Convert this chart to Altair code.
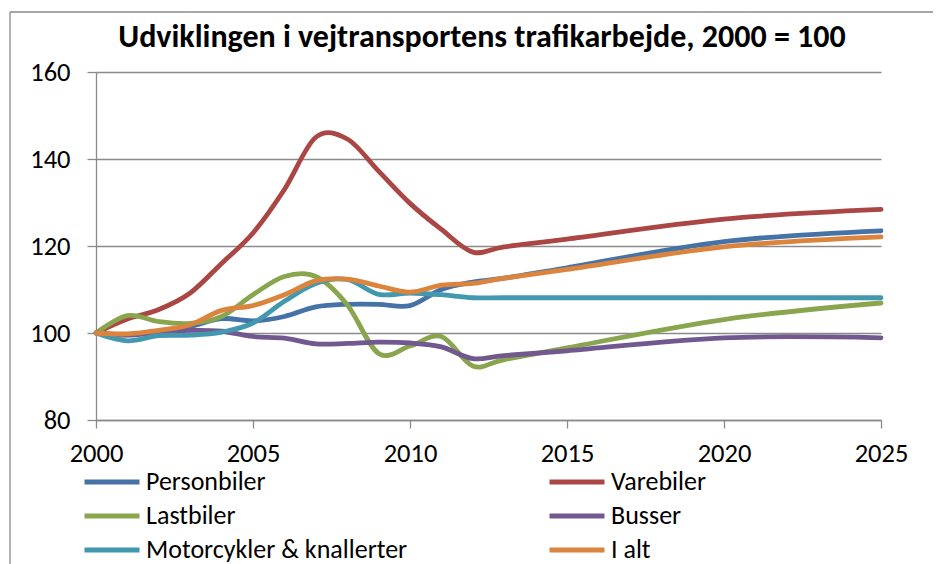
import altair as alt
import pandas as pd

years = [2000, 2001, 2002, 2003, 2004, 2005, 2006, 2007, 2008, 2009, 2010, 2011, 2012, 2013, 2015, 2020, 2025]

personbiler = [100, 99.6, 100.4, 101.5, 103.3, 102.8, 103.8, 106.0, 106.6, 106.6, 106.3, 110.0, 111.7, 112.6, 115.0, 121.0, 123.5]
varebiler = [100, 103.2, 105.4, 109.2, 116.0, 123.0, 133.0, 145.0, 144.6, 137.2, 129.8, 123.8, 118.6, 119.8, 121.6, 126.2, 128.4]
lastbiler = [100, 104.0, 102.6, 102.2, 103.8, 108.8, 113.0, 113.0, 106.5, 95.3, 97.0, 99.2, 92.4, 93.9, 96.6, 103.1, 106.9]
busser = [100, 99.5, 100.2, 100.6, 100.4, 99.2, 98.8, 97.5, 97.6, 97.9, 97.7, 96.8, 94.1, 94.8, 95.9, 98.9, 98.9]
motorcykler = [100, 98.2, 99.4, 99.5, 100.2, 102.3, 107.3, 111.4, 112.3, 108.9, 109.2, 108.8, 108.1, 108.1, 108.1, 108.1, 108.1]
i_alt = [100, 99.8, 100.6, 101.9, 105.2, 106.3, 108.8, 112.0, 112.4, 110.8, 109.4, 111.0, 111.4, 112.6, 114.6, 119.8, 122.1]

series_names = ["Personbiler", "Varebiler", "Lastbiler", "Busser", "Motorcykler & knallerter", "I alt"]
series_values = [personbiler, varebiler, lastbiler, busser, motorcykler, i_alt]
series_colors = ["#4572A7", "#AA4643", "#89A54E", "#71588F", "#4198AF", "#DB843D"]

x_ticks = [2000, 2005, 2010, 2015, 2020, 2025]
y_ticks = [80, 100, 120, 140, 160]

title_text = "Udviklingen i vejtransportens trafikarbejde, 2000 = 100"

rows = []
for name, vals in zip(series_names, series_values):
    for yr, v in zip(years, vals):
        rows.append({"Serie": name, "År": yr, "Indeks": v})
df = pd.DataFrame(rows)
one = pd.DataFrame({"titel": [title_text]})

FONT = "Carlito, Lato, sans-serif"
GRAY = "#8a8a8a"

lines = alt.Chart(df).mark_line(
    interpolate="cardinal", tension=0, strokeWidth=4.8, strokeCap="round", strokeJoin="round"
).encode(
    x=alt.X("År:Q", scale=alt.Scale(domain=[2000, 2025], nice=False, zero=False),
            axis=alt.Axis(values=x_ticks, format="d", title=None, grid=False,
                          tickSize=8, labelPadding=12, labelFlush=False)),
    y=alt.Y("Indeks:Q", scale=alt.Scale(domain=[80, 160], nice=False, zero=False),
            axis=alt.Axis(values=y_ticks, title=None, grid=True,
                          tickSize=9, labelPadding=17, labelFlush=False)),
    color=alt.Color("Serie:N",
                    scale=alt.Scale(domain=series_names, range=series_colors),
                    sort=series_names,
                    legend=alt.Legend(
                        title=None, orient="none", legendX=-14, legendY=396,
                        direction="horizontal", columns=2,
                        symbolType="stroke", symbolSize=3025, clipHeight=28,
                        symbolStrokeWidth=5, labelFontSize=26, labelFont=FONT,
                        labelColor="black", labelOffset=4, columnPadding=139,
                        rowPadding=6, labelLimit=400,
                    )),
    detail="Serie:N",
)

title_mark = alt.Chart(one).mark_text(
    font=FONT, fontSize=32, fontWeight="bold", color="black",
    align="center", baseline="alphabetic"
).encode(text="titel:N", x=alt.value(386), y=alt.value(-25))

frame_top = alt.Chart(one).mark_rule(color=GRAY, strokeWidth=1.3).encode(
    x=alt.value(-86), x2=alt.value(900), y=alt.value(-60)
)
frame_left = alt.Chart(one).mark_rule(color=GRAY, strokeWidth=1.3).encode(
    x=alt.value(-86), y=alt.value(-60), y2=alt.value(600)
)

chart = alt.layer(frame_top, frame_left, lines, title_mark).properties(
    width=785, height=348,
    padding={"left": 88, "top": 64, "right": 52, "bottom": 144},
    autosize=alt.AutoSizeParams(type="none"),
    background="white",
).configure_view(stroke=None).configure_axis(
    domainColor=GRAY, domainWidth=1.3, tickColor=GRAY, tickWidth=1.3,
    gridColor=GRAY, gridWidth=1.3, gridOpacity=1,
    labelFont=FONT, labelFontSize=26.5, labelColor="black",
)

chart.save("out.html", embed_options={"renderer": "svg", "actions": False})
